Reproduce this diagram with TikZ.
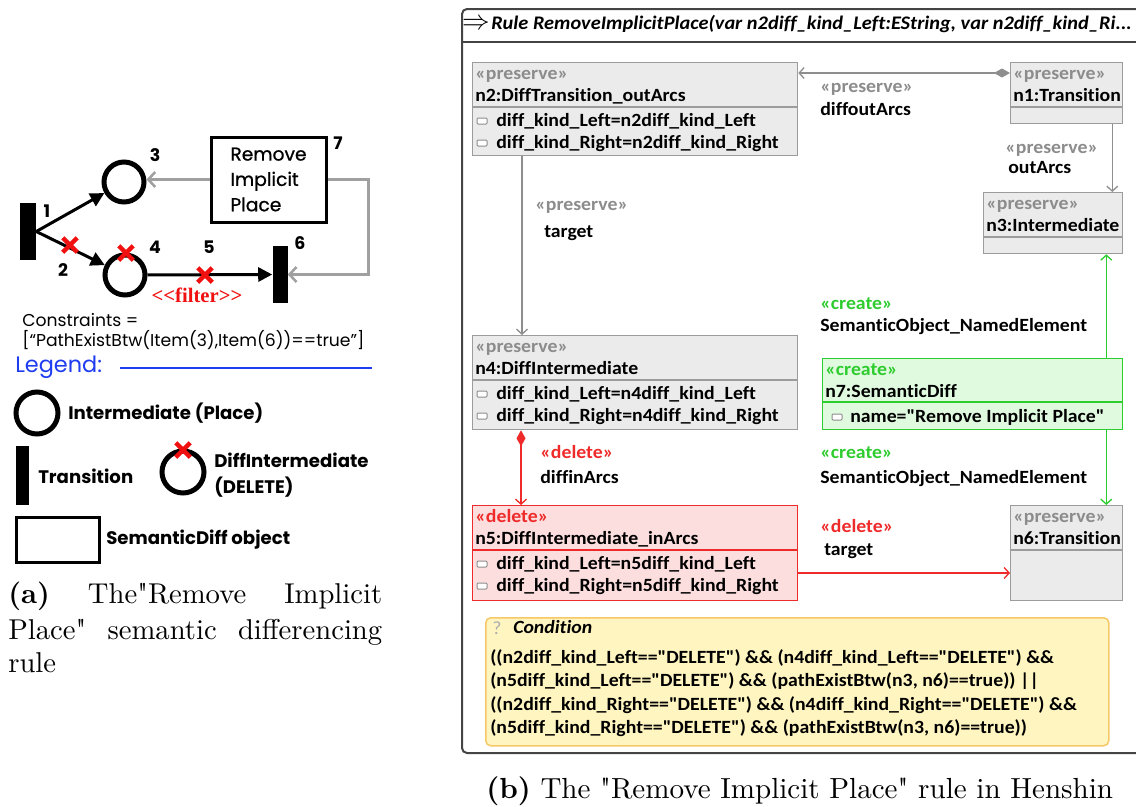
\documentclass[tikz,border=0pt]{standalone}
\usepackage{fontspec}
\usetikzlibrary{arrows.meta,shapes.misc}
\newfontfamily\pop{Poppins}
\newfontfamily\popmed{Poppins}[FakeBold=0.8]
\newfontfamily\hen{Carlito}[FakeStretch=1.06, Ligatures=NoCommon]
\newfontfamily\serb{Liberation Serif}
\newfontfamily\lmcap{lmroman10-regular.otf}[BoldFont=lmroman10-bold.otf]
\newdimen\px \px=0.75pt

\definecolor{hgray}{HTML}{EBEBEB}
\definecolor{hborder}{HTML}{9C9C9C}
\definecolor{hstereo}{HTML}{8C8C8C}
\definecolor{hline}{HTML}{8E8E8E}
\definecolor{cgreen}{HTML}{2ECC2E}
\definecolor{cgreenfill}{HTML}{E0FAE0}
\definecolor{cred}{HTML}{EE2A2A}
\definecolor{credfill}{HTML}{FDDEDE}
\definecolor{cyellow}{HTML}{FFF5C0}
\definecolor{cyellowb}{HTML}{F6C868}
\definecolor{legblue}{HTML}{1E3CF0}
\definecolor{arcgray}{HTML}{A0A0A0}
\definecolor{xred}{HTML}{F01010}
\definecolor{framec}{HTML}{444444}

\tikzset{
  trans/.style={rectangle, fill=black, draw=none, inner sep=0},
  place/.style={circle, draw=black, line width=5\px, minimum size=40\px, inner sep=0},
  xmark/.style={cross out, draw=xred, line width=4.5\px, minimum size=10\px, inner sep=0},
  num/.style={inner sep=0, font=\pop\bfseries\fontsize{13}{15}\selectfont},
  legtext/.style={inner sep=0, anchor=west, align=left, font=\pop\bfseries\fontsize{13.6}{19.5}\selectfont},
  plain/.style={inner sep=0, anchor=west, font=\pop\fontsize{12.9}{15}\selectfont},
  pnarc/.style={line width=3\px, -{Triangle[length=10.5pt,width=10.5pt]}},
  garc/.style={draw=arcgray, line width=3\px, -{Straight Barb[length=5.25pt,width=11.25pt,line width=1.9pt]}},
  hbox/.style={rectangle, draw=hborder, fill=hgray, line width=1.3\px, inner sep=0, anchor=north west},
  cbox/.style={hbox, draw=cgreen, fill=cgreenfill},
  dbox/.style={hbox, draw=cred, fill=credfill},
  sepl/.style={line width=1.3\px},
  ht/.style={inner sep=0, anchor=base west, font=\hen\bfseries\fontsize{14}{16}\selectfont},
  st/.style={ht, text=hstereo},
  gt/.style={ht, text=cgreen},
  rt/.style={ht, text=cred},
  attricon/.style={rectangle, draw=hstereo, fill=white, rounded corners=0.75pt, line width=0.75pt, minimum width=10\px, minimum height=6\px, inner sep=0},
  hedge/.style={draw=hline, line width=1.3\px, -{Straight Barb[length=3.75pt,width=8.25pt]}},
  dstart/.style={{Diamond[length=12pt,width=6.75pt]}-{Straight Barb[length=3.75pt,width=8.25pt]}},
  captext/.style={inner sep=0, anchor=base west, font=\lmcap\fontsize{21.5}{26.5}\selectfont},
}

\newcommand\sepline[3]{\draw[sepl,#3] ([yshift=-#2*0.75pt]#1.north west) -- ([yshift=-#2*0.75pt]#1.north east);}

\begin{document}
\begin{tikzpicture}[x=0.75pt, y=-0.75pt]
\useasboundingbox (0,0) rectangle (1136,807);
\clip (0,0) rectangle (1136,807);

% ---------- Petri-net view of the rule ----------
\node[trans, minimum width=16\px, minimum height=57\px] (t1) at (28,231.5) {};
\node[place] (p3) at (124,182) {};
\node[place] (p4) at (125,275) {};
\node[trans, minimum width=15\px, minimum height=57\px] (t6) at (280,274.5) {};
\node[rectangle, draw, line width=3\px, minimum width=115\px, minimum height=85\px, inner sep=0,
      align=left, font=\popmed\fontsize{14}{19}\selectfont] (b7) at (268.5,179.5) {Remove\\Implicit\\Place};

\draw[pnarc] (t1.east) -- (p3);
\draw[pnarc] (t1.east) -- (p4);
\draw[pnarc] (p4) -- (t6.west);
\draw[garc] (b7.west) -- (p3.east |- b7.west);
\draw[garc] (b7.east) -- ++(41,0) |- (t6.east);

\node[xmark] (x2) at (70,245) {};
\node[xmark] (x4) at (126,253) {};
\node[xmark] (x5) at (205,275) {};

\node[num] (l1) at (47,211) {1};
\node[num] (l2) at (63,270) {2};
\node[num] (l3) at (155,155) {3};
\node[num] (l4) at (155,247) {4};
\node[num] (l5) at (209,247) {5};
\node[num] (l6) at (300,243) {6};
\node[num] (l7) at (338,143) {7};
\node[inner sep=0, text=xred, font=\serb\bfseries\fontsize{15.5}{17}\selectfont] (flt) at (197,295) {<<filter>>};

\node[plain] (cons1) at (22,320) {Constraints =};
\node[plain] (cons2) at (22,340) {[“PathExistBtw(Item(3),Item(6))==true”]};

\node[inner sep=0, anchor=west, text=legblue, font=\pop\fontsize{16.8}{19}\selectfont] (leg) at (15,367) {Legend:};
\coordinate (legend start) at (120,368);
\coordinate (legend end) at (372,368);
\draw[legblue, line width=1.5\px] (legend start) -- (legend end);

\node[place, minimum size=42\px] (lp) at (37,413) {};
\node[legtext] (lpt) at (68,413) {Intermediate (Place)};
\node[trans, minimum width=13\px, minimum height=59\px] (lt) at (22.5,475.5) {};
\node[legtext] (ltt) at (38,476) {Transition};
\node[place, minimum size=42\px] (ld) at (183,472) {};
\node[xmark] (ldx) at (183,450) {};
\node[legtext] (ldt) at (214,475) {DiffIntermediate\\(DELETE)};
\node[rectangle, draw, line width=3\px, minimum width=83\px, minimum height=45\px, inner sep=0] (lr) at (57.5,539.5) {};
\node[legtext] (lrt) at (106,540) {SemanticDiff object};

\node[captext] (capa1) at (8,603) {\makebox[280.5pt][s]{\textbf{(a)} The"Remove Implicit}};
\node[captext] (capa2) at (8,639) {\makebox[280.5pt][s]{Place" semantic differencing}};
\node[captext] (capa3) at (8,672) {rule};

% ---------- Henshin rule editor ----------
\draw[framec, line width=2\px, rounded corners=3.75pt] (462,9) rectangle (1160,753);
\draw[framec, line width=1.5\px] (462,42) -- (1160,42);
\node[inner sep=0, font=\fontsize{20}{20}\selectfont] (arrowsym) at (476,24) {$\Rightarrow$};
\node[inner sep=0, anchor=base west, font=\hen\bfseries\itshape\fontsize{14.4}{16}\selectfont] (title) at (491,29)
  {Rule RemoveImplicitPlace(var n2diff\_kind\_Left:EString, var n2diff\_kind\_Ri...};

% nodes
\node[hbox, minimum width=325\px, minimum height=93\px] (n2) at (472,62) {};
\node[hbox, minimum width=112\px, minimum height=61\px] (n1) at (1010,62) {};
\node[hbox, minimum width=139\px, minimum height=61\px] (n3) at (983,192) {};
\node[hbox, minimum width=325\px, minimum height=94\px] (n4) at (472,335) {};
\node[cbox, minimum width=300\px, minimum height=71\px] (n7) at (822,358) {};
\node[dbox, minimum width=325\px, minimum height=95\px] (n5) at (472,505) {};
\node[hbox, minimum width=112\px, minimum height=95\px] (n6) at (1010,505) {};

\sepline{n2}{45}{hborder}
\sepline{n1}{45}{hborder}
\sepline{n3}{45}{hborder}
\sepline{n4}{45}{hborder}
\sepline{n7}{44}{cgreen}
\sepline{n5}{45}{cred}
\sepline{n6}{45}{hborder}

% n2
\node[st] (n2s) at (475,79) {«preserve»};
\node[ht] (n2n) at (475,101) {n2:DiffTransition\_outArcs};
\node[attricon] (n2i1) at (482,121) {};
\node[ht] (n2a1) at (496,126) {diff\_kind\_Left=n2diff\_kind\_Left};
\node[attricon] (n2i2) at (482,143) {};
\node[ht] (n2a2) at (496,148) {diff\_kind\_Right=n2diff\_kind\_Right};
% n1
\node[st] (n1s) at (1013,79) {«preserve»};
\node[ht] (n1n) at (1013,101) {n1:Transition};
% n3
\node[st] (n3s) at (986,209) {«preserve»};
\node[ht] (n3n) at (986,231) {n3:Intermediate};
% n4
\node[st] (n4s) at (475,352) {«preserve»};
\node[ht] (n4n) at (475,374) {n4:DiffIntermediate};
\node[attricon] (n4i1) at (482,394) {};
\node[ht] (n4a1) at (496,399) {diff\_kind\_Left=n4diff\_kind\_Left};
\node[attricon] (n4i2) at (482,416) {};
\node[ht] (n4a2) at (496,421) {diff\_kind\_Right=n4diff\_kind\_Right};
% n7
\node[gt] (n7s) at (825,375) {«create»};
\node[ht] (n7n) at (825,397) {n7:SemanticDiff};
\node[attricon] (n7i1) at (837,417) {};
\node[ht] (n7a1) at (850,422) {name="Remove Implicit Place"};
% n5
\node[rt] (n5s) at (475,522) {«delete»};
\node[ht] (n5n) at (475,544) {n5:DiffIntermediate\_inArcs};
\node[attricon] (n5i1) at (482,564) {};
\node[ht] (n5a1) at (496,569) {diff\_kind\_Left=n5diff\_kind\_Left};
\node[attricon] (n5i2) at (482,586) {};
\node[ht] (n5a2) at (496,591) {diff\_kind\_Right=n5diff\_kind\_Right};
% n6
\node[st] (n6s) at (1013,522) {«preserve»};
\node[ht] (n6n) at (1013,544) {n6:Transition};

% edges
\draw[hedge, dstart, fill=hline] ([yshift=-8.25pt]n1.north west) -- ([yshift=-8.25pt]n2.north east);
\draw[hedge] ([xshift=-8.25pt]n1.south east) -- ([xshift=-8.25pt]n3.north east);
\draw[hedge] ([xshift=37.5pt]n2.south west) -- ([xshift=37.5pt]n4.north west);
\draw[hedge, draw=cgreen] ([xshift=-12.75pt]n7.north east) -- ([xshift=-12.75pt]n3.south east);
\draw[hedge, draw=cgreen] ([xshift=-12.75pt]n7.south east) -- ([xshift=-12.75pt]n6.north east);
\draw[hedge, dstart, draw=cred, fill=cred] ([xshift=36.75pt]n4.south west) -- ([xshift=36.75pt]n5.north west);
\draw[hedge, draw=cred] ([yshift=-51pt]n5.north east) -- ([yshift=-51pt]n6.north west);

% edge labels
\node[st] (e1s) at (820,92) {«preserve»};
\node[ht] (e1n) at (820,115) {diffoutArcs};
\node[st] (e2s) at (1005,153) {«preserve»};
\node[ht] (e2n) at (1008,173) {outArcs};
\node[st] (e3s) at (535,210) {«preserve»};
\node[ht] (e3n) at (544,237) {target};
\node[gt] (e4s) at (820,309) {«create»};
\node[ht] (e4n) at (820,331) {SemanticObject\_NamedElement};
\node[rt] (e5s) at (540,458) {«delete»};
\node[ht] (e5n) at (540,483) {diffinArcs};
\node[gt] (e6s) at (820,458) {«create»};
\node[ht] (e6n) at (820,483) {SemanticObject\_NamedElement};
\node[rt] (e7s) at (820,532) {«delete»};
\node[ht] (e7n) at (824,555) {target};

% condition
\node[rectangle, draw=cyellowb, fill=cyellow, rounded corners=3.75pt, line width=1.5\px,
      minimum width=623\px, minimum height=128\px, inner sep=0, anchor=north west] (cond) at (485,617) {};
\node[inner sep=0, anchor=base west, text=hstereo!70, font=\hen\fontsize{14}{16}\selectfont] (condq) at (492,634) {?};
\node[ht, font=\hen\bfseries\itshape\fontsize{14}{16}\selectfont] (condt) at (513,633) {Condition};
\node[ht] (c1) at (490,663) {((n2diff\_kind\_Left=="DELETE") \&\& (n4diff\_kind\_Left=="DELETE") \&\&};
\node[ht] (c2) at (490,686) {(n5diff\_kind\_Left=="DELETE") \&\& (pathExistBtw(n3, n6)==true)) ||};
\node[ht] (c3) at (490,710) {((n2diff\_kind\_Right=="DELETE") \&\& (n4diff\_kind\_Right=="DELETE") \&\&};
\node[ht] (c4) at (490,733) {(n5diff\_kind\_Right=="DELETE") \&\& (pathExistBtw(n3, n6)==true))};

\node[captext, font=\lmcap\fontsize{21.8}{26}\selectfont] (capb) at (486,798) {\textbf{(b)} The "Remove Implicit Place" rule in Henshin};
\end{tikzpicture}
\end{document}
